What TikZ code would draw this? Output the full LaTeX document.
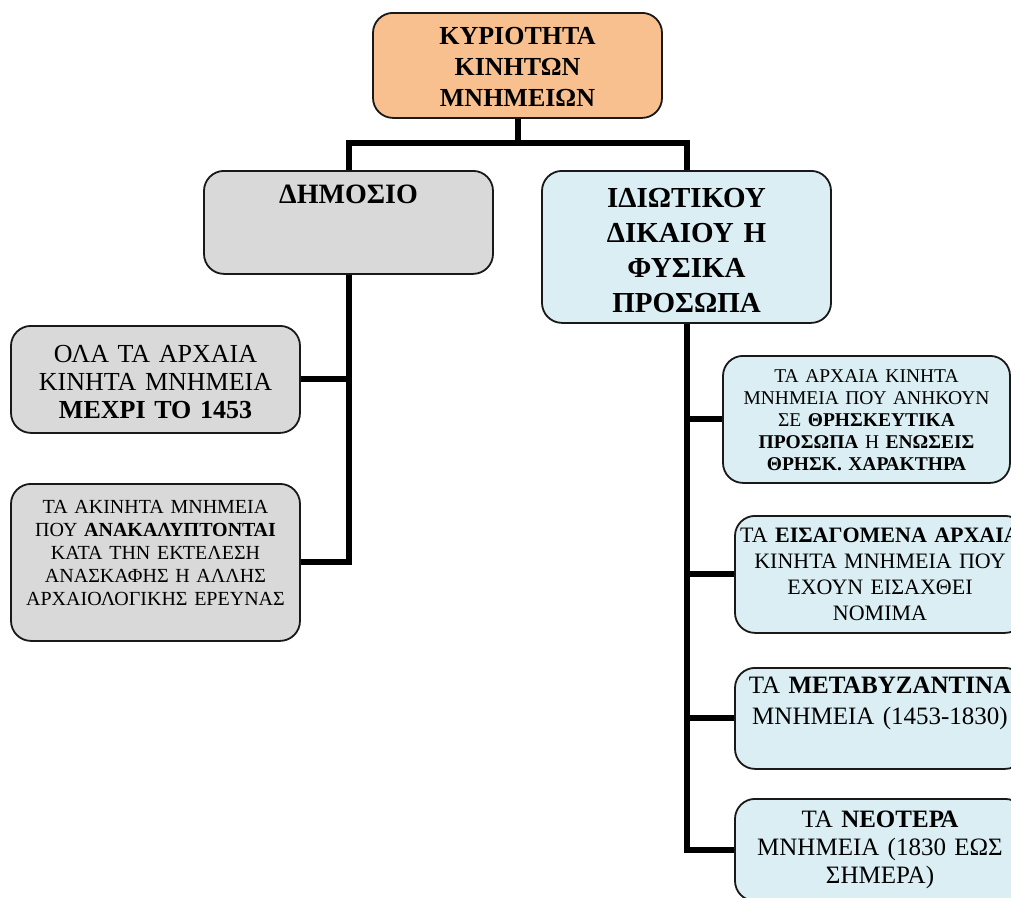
\documentclass[tikz,border=0pt]{standalone}
\usepackage{fontspec}
\setmainfont{Liberation Serif}
\definecolor{kyrfill}{HTML}{F9C08F}
\definecolor{dimfill}{HTML}{D9D9D9}
\definecolor{idifill}{HTML}{DAEEF3}
\begin{document}
\begin{tikzpicture}[x=1pt, y=-1pt,
    box/.style={draw=black!90, line width=1.8pt, rounded corners=20pt, anchor=north,
        inner xsep=4pt, inner ysep=0pt, align=center},
    link/.style={line width=6pt}]
    \useasboundingbox (0,0) rectangle (1011,897);
    \clip (0,0) rectangle (1011,897);

    % Top level
    \node [box, fill=kyrfill, text width=281pt, text height=32pt, text depth=73pt,
        font=\fontsize{26}{31}\selectfont\bfseries] (kyr) at (517.5,12)
        {ΚΥΡΙΟΤΗΤΑ\\ΚΙΝΗΤΩΝ\\ΜΝΗΜΕΙΩΝ};
    \node [box, fill=dimfill, text width=281pt, text height=33pt, text depth=70pt,
        font=\fontsize{28}{33}\selectfont\bfseries] (dim) at (348.5,170) {ΔΗΜΟΣΙΟ};
    \node [box, fill=idifill, text width=281pt, text height=37pt, text depth=115pt,
        font=\fontsize{29}{35}\selectfont\bfseries] (idi) at (686.5,170)
        {ΙΔΙΩΤΙΚΟΥ\\ΔΙΚΑΙΟΥ Η\\ΦΥΣΙΚΑ\\ΠΡΟΣΩΠΑ};

    % Public side
    \node [box, fill=dimfill, text width=281pt, text height=37pt, text depth=70pt,
        font=\fontsize{26}{28}\selectfont] (dima) at (155.5,325)
        {ΟΛΑ ΤΑ ΑΡΧΑΙΑ\\ΚΙΝΗΤΑ ΜΝΗΜΕΙΑ\\\textbf{ΜΕΧΡΙ ΤΟ 1453}};
    \node [box, fill=dimfill, text width=281pt, text height=30pt, text depth=127pt,
        font=\fontsize{20}{23}\selectfont] (dimb) at (155.5,483)
        {ΤΑ ΑΚΙΝΗΤΑ ΜΝΗΜΕΙΑ\\ΠΟΥ \textbf{ΑΝΑΚΑΛΥΠΤΟΝΤΑΙ}\\ΚΑΤΑ ΤΗΝ ΕΚΤΕΛΕΣΗ\\ΑΝΑΣΚΑΦΗΣ Η ΑΛΛΗΣ\\ΑΡΧΑΙΟΛΟΓΙΚΗΣ ΕΡΕΥΝΑΣ};

    % Private side
    \node [box, fill=idifill, text width=279pt, text height=27pt, text depth=100pt,
        font=\fontsize{19.5}{22}\selectfont] (idia) at (866.5,355)
        {ΤΑ ΑΡΧΑΙΑ ΚΙΝΗΤΑ\\ΜΝΗΜΕΙΑ ΠΟΥ ΑΝΗΚΟΥΝ\\ΣΕ \textbf{ΘΡΗΣΚΕΥΤΙΚΑ}\\\textbf{ΠΡΟΣΩΠΑ} Η \textbf{ΕΝΩΣΕΙΣ}\\\textbf{ΘΡΗΣΚ. ΧΑΡΑΚΤΗΡΑ}};
    \node [box, fill=idifill, text width=282pt, text height=27pt, text depth=90pt,
        font=\fontsize{22}{26}\selectfont] (idib) at (880,515)
        {ΤΑ \textbf{ΕΙΣΑΓΟΜΕΝΑ ΑΡΧΑΙΑ}\\ΚΙΝΗΤΑ ΜΝΗΜΕΙΑ ΠΟΥ\\ΕΧΟΥΝ ΕΙΣΑΧΘΕΙ\\ΝΟΜΙΜΑ};
    \node [box, fill=idifill, text width=282pt, text height=26pt, text depth=75pt,
        font=\fontsize{25}{31}\selectfont] (idic) at (880,667)
        {ΤΑ \textbf{ΜΕΤΑΒΥΖΑΝΤΙΝΑ}\\ΜΝΗΜΕΙΑ (1453-1830)};
    \node [box, fill=idifill, text width=282pt, text height=29pt, text depth=73pt,
        font=\fontsize{25}{28}\selectfont] (idid) at (880,798)
        {ΤΑ \textbf{ΝΕΟΤΕΡΑ}\\ΜΝΗΜΕΙΑ (1830 ΕΩΣ\\ΣΗΜΕΡΑ)};

    % Connectors
    \coordinate (jn) at (517.5,143);
    \draw [link] (kyr.south) -- (jn);
    \draw [link] (dim.north) |- (jn) -| (idi.north);
    \draw [link] (dim.south) |- (dimb.east);
    \draw [link] (dim.south |- dima.east) -- (dima.east);
    \draw [link] (idi.south) |- (idid.west);
    \draw [link] (idi.south |- idia.west) -- (idia.west);
    \draw [link] (idi.south |- idib.west) -- (idib.west);
    \draw [link] (idi.south |- idic.west) -- (idic.west);
\end{tikzpicture}
\end{document}
